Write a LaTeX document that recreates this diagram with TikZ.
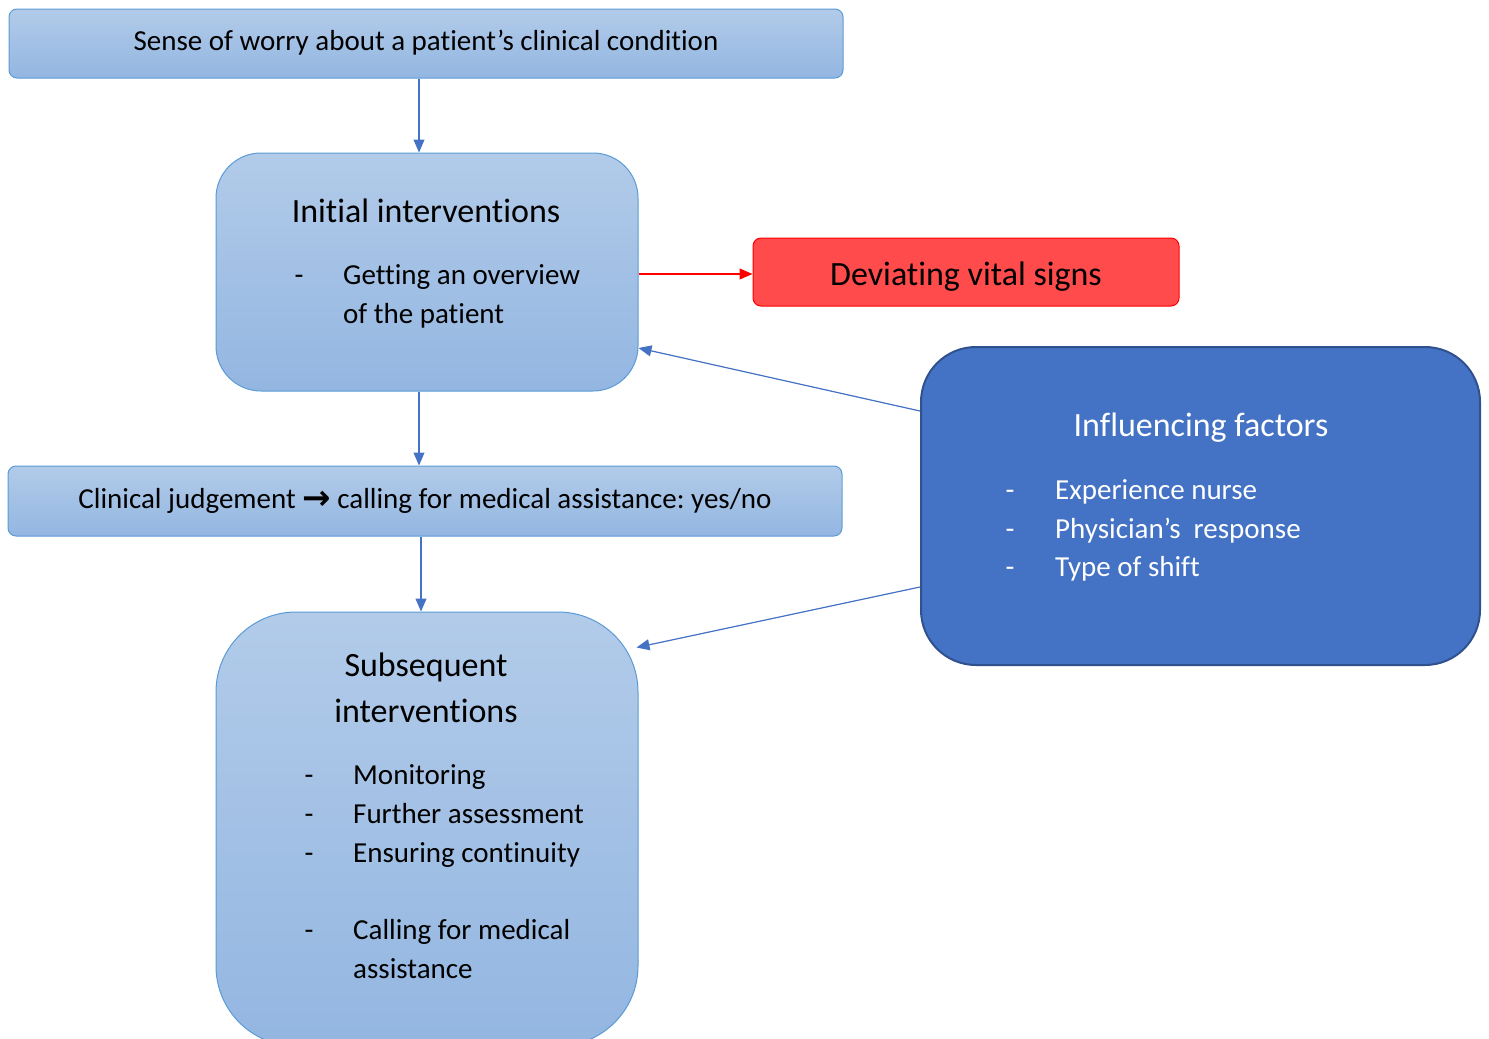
\documentclass[tikz,border=0pt]{standalone}
\usepackage{fontspec}
\setmainfont{Carlito}[Ligatures=NoCommon]
\newfontfamily\arrowfont{DejaVu Sans}
\usetikzlibrary{calc,arrows.meta}
\definecolor{lbtop}{HTML}{B2CBE9}
\definecolor{lbbot}{HTML}{93B6E1}
\definecolor{lbborder}{HTML}{5B9BD5}
\definecolor{arrblue}{HTML}{4472C4}
\definecolor{redfill}{HTML}{FF4B4B}
\definecolor{redline}{HTML}{FF0000}
\definecolor{darkfill}{HTML}{4472C4}
\definecolor{darkline}{HTML}{2F528F}
\frenchspacing
\begin{document}
\begin{tikzpicture}[x=1pt,y=-1pt,
  lightbox/.style={draw=lbborder, line width=1pt, top color=lbtop, bottom color=lbbot, inner sep=0pt},
  redbox/.style={draw=redline, line width=1pt, fill=redfill, rounded corners=8pt, inner sep=0pt},
  darkbox/.style={draw=darkline, line width=2pt, fill=darkfill, rounded corners=55pt, inner sep=0pt},
  barr/.style={draw=arrblue, line width=1.2pt, -{Triangle[length=13pt,width=11pt]}, fill=arrblue},
  rarr/.style={draw=redline, line width=1.2pt, -{Triangle[length=13pt,width=11pt]}, fill=redline},
  txt/.style={inner sep=0pt, text height=0.75em, text depth=0.25em},
  body/.style={txt, font=\fontsize{29}{35}\selectfont},
  head/.style={txt, font=\fontsize{34}{40}\selectfont},
]
\useasboundingbox (0,0) rectangle (1489,1039);
\clip (0,0) rectangle (1489,1039);

% boxes
\node[lightbox, rounded corners=8pt, minimum width=834pt, minimum height=69pt] (worry) at (426,43.5) {};
\node[lightbox, rounded corners=45pt, minimum width=422pt, minimum height=238pt] (init) at (427,272) {};
\node[redbox, minimum width=426pt, minimum height=68pt] (dev) at (966,272) {};
\node[darkbox, minimum width=559pt, minimum height=318pt] (infl) at (1200.5,506) {};
\node[lightbox, rounded corners=8pt, minimum width=834pt, minimum height=70pt] (clin) at (425,501) {};
\node[lightbox, rounded corners=80pt, minimum width=422pt, minimum height=434pt] (subs) at (427,829) {};

% texts
\node[body] (tworry) at (426,48) {Sense of worry about a patient’s clinical condition};

\node[head] (tinit) at (426,220) {Initial interventions};
\node[body] (d1) at (299,282) {-};
\node[body, anchor=west] (i1) at (343,282) {Getting an overview};
\node[body, anchor=west] (i2) at (343,321) {of the patient};

\node[head] (tdev) at (966,283) {Deviating vital signs};

\node[head, text=white] (tinfl) at (1201,434) {Influencing factors};
\node[body, text=white] (f1d) at (1010,497) {-};
\node[body, text=white] (f2d) at (1010,536) {-};
\node[body, text=white] (f3d) at (1010,574) {-};
\node[body, text=white, anchor=west] (f1) at (1055,497) {Experience nurse};
\node[body, text=white, anchor=west] (f2) at (1055,536) {Physician’s\ \ response};
\node[body, text=white, anchor=west] (f3) at (1055,574) {Type of shift};

\node[body] (tclin) at (425,506) {Clinical judgement {\arrowfont\bfseries\fontsize{34}{36}\selectfont\raisebox{-1pt}{→}} calling for medical assistance: yes/no};

\node[head] (ts1) at (426,674) {Subsequent};
\node[head] (ts2) at (426,720) {interventions};
\node[body] (s1d) at (309,782) {-};
\node[body] (s2d) at (309,821) {-};
\node[body] (s3d) at (309,860) {-};
\node[body] (s4d) at (309,937) {-};
\node[body, anchor=west] (s1) at (353,782) {Monitoring};
\node[body, anchor=west] (s2) at (353,821) {Further assessment};
\node[body, anchor=west] (s3) at (353,860) {Ensuring continuity};
\node[body, anchor=west] (s4) at (353,937) {Calling for medical};
\node[body, anchor=west] (s5) at (353,976) {assistance};

% connectors
\draw[barr] ([xshift=-7pt]worry.south) -- ([xshift=-8pt]init.north);
\draw[barr] ([xshift=-8pt]init.south) -- ([xshift=-6pt]clin.north);
\draw[barr] ([xshift=-4pt]clin.south) -- ([xshift=-6pt]subs.north);
\draw[rarr] ([yshift=-2pt]init.east) -- ([yshift=-2pt]dev.west);
\draw[barr] ([yshift=95pt]infl.west) -- ([yshift=-76pt]init.east);
\draw[barr] ([yshift=-81pt]infl.west) -- ([xshift=-2pt,yshift=-36pt]subs.north east);
\end{tikzpicture}
\end{document}
